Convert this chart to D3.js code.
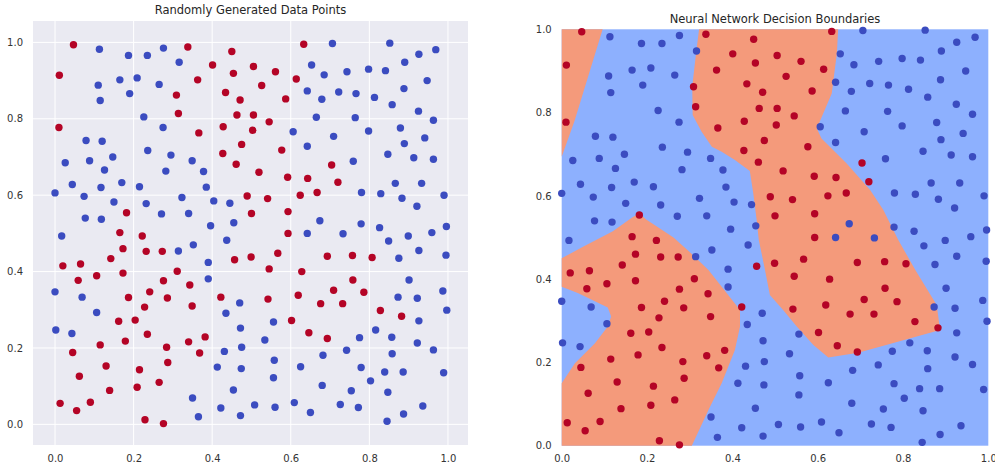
<!DOCTYPE html>
<html><head><meta charset="utf-8">
<script src="https://cdn.jsdelivr.net/npm/d3@7"></script>
<style>body{margin:0;background:#fff}svg{display:block}text{font-family:"DejaVu Sans",sans-serif;fill:#262626}</style>
</head><body><svg id="c" width="995" height="467"></svg>
<script>
const titles = ["Randomly Generated Data Points", "Neural Network Decision Boundaries"];
const tickValues = [0, 0.2, 0.4, 0.6, 0.8, 1.0];
const tickLabels = ["0.0", "0.2", "0.4", "0.6", "0.8", "1.0"];

const redPoints = [
[0.047,0.994],[0.338,0.988],[0.450,0.976],[0.401,0.941],[0.505,0.937],[0.011,0.914],[0.363,0.902],[0.454,0.919],
[0.309,0.862],[0.434,0.869],[0.471,0.849],[0.314,0.814],[0.463,0.810],[0.505,0.810],[0.010,0.777],[0.366,0.763],
[0.428,0.779],[0.503,0.770],[0.475,0.733],[0.427,0.709],[0.461,0.681],[0.489,0.598],[0.182,0.554],[0.500,0.552],
[0.165,0.502],[0.222,0.493],[0.173,0.460],[0.232,0.453],[0.273,0.453],[0.020,0.415],[0.065,0.420],[0.142,0.434],
[0.457,0.431],[0.499,0.438],[0.059,0.377],[0.106,0.389],[0.173,0.396],[0.311,0.401],[0.276,0.376],[0.343,0.365],
[0.187,0.332],[0.241,0.347],[0.286,0.331],[0.228,0.307],[0.349,0.310],[0.422,0.333],[0.162,0.270],[0.204,0.273],
[0.235,0.236],[0.179,0.218],[0.115,0.208],[0.284,0.202],[0.340,0.216],[0.382,0.229],[0.045,0.188],[0.368,0.187],
[0.130,0.153],[0.215,0.143],[0.287,0.162],[0.062,0.126],[0.139,0.089],[0.209,0.097],[0.265,0.110],[0.013,0.055],
[0.055,0.036],[0.090,0.058],[0.229,0.012],[0.276,0.002],
[0.633,0.995],[0.561,0.923],[0.614,0.904],[0.526,0.887],[0.587,0.852],[0.545,0.792],[0.577,0.718],[0.704,0.679],
[0.519,0.660],[0.592,0.647],[0.643,0.644],[0.720,0.634],[0.541,0.591],[0.624,0.600],[0.667,0.607],[0.593,0.557],
[0.593,0.500],[0.567,0.448],[0.693,0.440],[0.757,0.442],[0.807,0.437],[0.545,0.407],[0.628,0.400],[0.758,0.378],
[0.709,0.351],[0.786,0.346],[0.542,0.328],[0.619,0.338],[0.676,0.316],[0.732,0.316],[0.828,0.298],[0.882,0.283],
[0.602,0.272],[0.646,0.240],[0.693,0.225]
];

const bluePoints = [
[0.113,0.982],[0.187,0.966],[0.235,0.966],[0.276,0.985],[0.316,0.948],[0.110,0.888],[0.165,0.902],[0.209,0.907],
[0.265,0.890],[0.115,0.848],[0.190,0.866],[0.226,0.805],[0.275,0.777],[0.079,0.743],[0.120,0.741],[0.236,0.717],
[0.147,0.700],[0.295,0.705],[0.026,0.685],[0.088,0.690],[0.126,0.666],[0.282,0.663],[0.349,0.690],[0.378,0.662],
[0.044,0.628],[0.117,0.620],[0.170,0.633],[0.215,0.622],[0.385,0.621],[0.000,0.606],[0.074,0.597],[0.150,0.582],
[0.232,0.578],[0.323,0.594],[0.404,0.585],[0.445,0.579],[0.271,0.551],[0.340,0.552],[0.077,0.540],[0.118,0.537],
[0.396,0.520],[0.455,0.528],[0.017,0.493],[0.437,0.482],[0.314,0.454],[0.352,0.470],[0.390,0.424],[0.390,0.381],
[0.000,0.347],[0.069,0.333],[0.470,0.318],[0.435,0.291],[0.106,0.293],[0.002,0.247],[0.043,0.238],[0.472,0.252],
[0.431,0.191],[0.475,0.202],[0.413,0.150],[0.474,0.146],[0.454,0.090],[0.350,0.069],[0.365,0.020],[0.422,0.043],
[0.472,0.023],[0.508,0.051],
[0.706,0.997],[0.852,0.998],[0.969,0.981],[0.926,0.969],[0.890,0.948],[0.653,0.941],[0.685,0.915],[0.743,0.923],
[0.798,0.930],[0.841,0.926],[0.947,0.900],[0.642,0.873],[0.679,0.851],[0.722,0.870],[0.766,0.866],[0.813,0.856],
[0.858,0.837],[0.888,0.879],[0.925,0.820],[0.665,0.804],[0.764,0.803],[0.963,0.796],[0.606,0.766],[0.709,0.754],
[0.798,0.768],[0.879,0.776],[0.941,0.750],[0.642,0.728],[0.889,0.735],[0.847,0.707],[0.913,0.698],[0.963,0.694],
[0.759,0.689],[0.866,0.631],[0.933,0.631],[0.780,0.607],[0.829,0.604],[0.883,0.592],[0.990,0.600],[0.921,0.571],
[0.674,0.533],[0.779,0.525],[0.826,0.515],[0.996,0.518],[0.959,0.502],[0.642,0.500],[0.733,0.499],[0.899,0.493],
[0.849,0.480],[0.875,0.435],[0.926,0.455],[0.995,0.443],[0.901,0.378],[0.987,0.349],[0.873,0.333],[0.922,0.330],
[0.997,0.299],[0.926,0.271],[0.556,0.268],[0.534,0.221],[0.775,0.227],[0.816,0.247],[0.857,0.228],[0.922,0.213],
[0.558,0.168],[0.682,0.181],[0.742,0.194],[0.858,0.185],[0.963,0.195],[0.625,0.151],[0.779,0.149],[0.839,0.137],
[0.886,0.137],[0.989,0.135],[0.556,0.122],[0.680,0.102],[0.803,0.114],[0.754,0.088],[0.847,0.084],[0.560,0.045],
[0.609,0.057],[0.650,0.031],[0.726,0.052],[0.772,0.044],[0.936,0.048],[0.887,0.027],[0.845,0.008]
];

// decision regions (class 1 = red), in data coordinates
const regionTopLeft = [[0,1],[0.096,1],[0.06,0.88],[0.03,0.78],[0,0.694]];
const regionMiddle = [
[0.322,1.0],[0.648,1.0],[0.645,0.942],[0.637,0.878],[0.633,0.846],[0.598,0.762],[0.609,0.738],[0.668,0.678],
[0.723,0.614],[0.754,0.566],[0.789,0.494],[0.830,0.42],[0.879,0.338],[0.887,0.278],[0.695,0.223],[0.625,0.212],
[0.590,0.242],[0.551,0.286],[0.519,0.326],[0.488,0.362],[0.475,0.43],[0.462,0.494],[0.457,0.542],[0.449,0.606],
[0.441,0.660],[0.406,0.686],[0.375,0.706],[0.352,0.718],[0.328,0.754],[0.307,0.794],[0.306,0.862],[0.314,0.934]
];
const regionBottomLeft = [
[0,0.450],[0.05,0.478],[0.12,0.515],[0.165,0.548],[0.182,0.558],[0.198,0.543],[0.215,0.532],[0.262,0.50],
[0.30,0.465],[0.344,0.422],[0.418,0.326],[0.418,0.286],[0.406,0.230],[0.375,0.150],[0.344,0.086],[0.305,0],
[0,0],[0,0.150],[0.031,0.198],[0.078,0.246],[0.108,0.286],[0.116,0.31],[0.108,0.332],[0.039,0.366],[0,0.382]
];

const RED = "#b40426", BLUE = "#3b4cc0", BG_RED = "#f49a7b", BG_BLUE = "#8db0fe";
const svg = d3.select("#c");

// ---------- left panel ----------
const L = {x0:33, x1:468, y0:21, y1:445};
const xL = d3.scaleLinear().domain([-0.056, 1.051]).range([L.x0, L.x1]);
const yL = d3.scaleLinear().domain([-0.054, 1.056]).range([L.y1, L.y0]);
const gL = svg.append("g");
gL.append("rect").attr("x",L.x0).attr("y",L.y0).attr("width",L.x1-L.x0).attr("height",L.y1-L.y0).attr("fill","#eaeaf2");
gL.selectAll("line.gx").data(tickValues).join("line").attr("x1",d=>xL(d)).attr("x2",d=>xL(d)).attr("y1",L.y0).attr("y2",L.y1).attr("stroke","#fff").attr("stroke-width",1);
gL.selectAll("line.gy").data(tickValues).join("line").attr("class","gy").attr("y1",d=>yL(d)).attr("y2",d=>yL(d)).attr("x1",L.x0).attr("x2",L.x1).attr("stroke","#fff").attr("stroke-width",1);
const axLB = d3.axisBottom(xL).tickValues(tickValues).tickFormat((d,i)=>tickLabels[i]).tickSize(0).tickPadding(10);
const axLL = d3.axisLeft(yL).tickValues(tickValues).tickFormat((d,i)=>tickLabels[i]).tickSize(0).tickPadding(10);
const aLB = gL.append("g").attr("transform",`translate(0,${L.y1})`).call(axLB);
const aLL = gL.append("g").attr("transform",`translate(${L.x0},0)`).call(axLL);
[aLB,aLL].forEach(a=>{a.select(".domain").remove();a.selectAll("text").attr("font-size",10).attr("font-family","DejaVu Sans").style("fill","#333");});
gL.selectAll("circle.r").data(redPoints).join("circle").attr("cx",d=>xL(d[0])).attr("cy",d=>yL(d[1])).attr("r",3.7).attr("fill",RED);
gL.selectAll("circle.b").data(bluePoints).join("circle").attr("class","b").attr("cx",d=>xL(d[0])).attr("cy",d=>yL(d[1])).attr("r",3.7).attr("fill",BLUE);
svg.append("text").attr("x",(L.x0+L.x1)/2).attr("y",14).attr("text-anchor","middle").attr("font-size",11.5).text(titles[0]);

// ---------- right panel ----------
const R = {x0:561.7, x1:988.3, y0:29.3, y1:445.7};
const xR = d3.scaleLinear().domain([0,1]).range([R.x0, R.x1]);
const yR = d3.scaleLinear().domain([0,1]).range([R.y1, R.y0]);
const gR = svg.append("g");
gR.append("rect").attr("x",R.x0).attr("y",R.y0).attr("width",R.x1-R.x0).attr("height",R.y1-R.y0).attr("fill",BG_BLUE);
const line = d3.line().x(d=>xR(d[0])).y(d=>yR(d[1]));
gR.selectAll("path.reg").data([regionTopLeft, regionMiddle, regionBottomLeft]).join("path").attr("d",d=>line(d)+"Z").attr("fill",BG_RED);
const axRB = d3.axisBottom(xR).tickValues(tickValues).tickFormat((d,i)=>tickLabels[i]).tickSize(0).tickPadding(9);
const axRL = d3.axisLeft(yR).tickValues(tickValues).tickFormat((d,i)=>tickLabels[i]).tickSize(0).tickPadding(10);
const aRB = gR.append("g").attr("transform",`translate(0,${R.y1})`).call(axRB);
const aRL = gR.append("g").attr("transform",`translate(${R.x0},0)`).call(axRL);
[aRB,aRL].forEach(a=>{a.select(".domain").remove();a.selectAll("text").attr("font-size",10).attr("font-family","DejaVu Sans").style("fill","#333");});
gR.selectAll("circle.r").data(redPoints).join("circle").attr("cx",d=>xR(d[0])).attr("cy",d=>yR(d[1])).attr("r",3.7).attr("fill",RED);
gR.selectAll("circle.b").data(bluePoints).join("circle").attr("class","b").attr("cx",d=>xR(d[0])).attr("cy",d=>yR(d[1])).attr("r",3.7).attr("fill",BLUE);
svg.append("text").attr("x",(R.x0+R.x1)/2).attr("y",23).attr("text-anchor","middle").attr("font-size",11.5).text(titles[1]);
</script></body></html>
